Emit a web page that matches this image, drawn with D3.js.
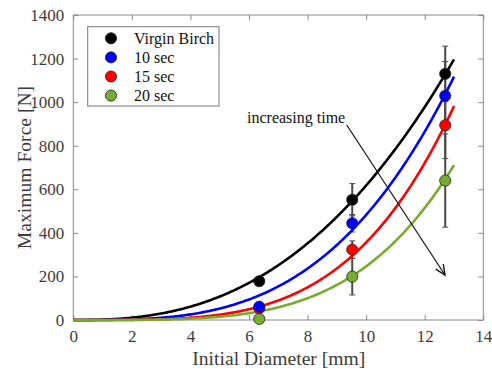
<!DOCTYPE html>
<html><head><meta charset="utf-8">
<script src="https://cdn.jsdelivr.net/npm/d3@7"></script>
<style>body{margin:0;background:#fff}svg{display:block}</style>
</head><body>
<svg id="c" width="492" height="376"></svg>
<script>
const seriesNames = ["Virgin Birch", "10 sec", "15 sec", "20 sec"];
const seriesColors = ["#000000", "#0000ff", "#ff0000", "#77ac30"];
const diameters = [6.35, 9.525, 12.7];
const forceVirgin = [178, 552, 1130];
const force10 = [61, 444, 1029];
const force15 = [54, 323, 894];
const force20 = [5, 199, 640];
const err = [[15, 74, 127], [18, 40, 157], [15, 40, 153], [6, 84, 214]];
// power-law fit F = a * D^b
const fitA = [1.865, 0.3044, 0.048, 0.02247];
const fitB = [2.52, 3.2, 3.87, 4.04];
const fitEnd = 13;
const xTicks = [0, 2, 4, 6, 8, 10, 12, 14];
const yTicks = [0, 200, 400, 600, 800, 1000, 1200, 1400];
const annotation = "increasing time";

const values = [forceVirgin, force10, force15, force20];
const svg = d3.select("#c");
const L = 73.3, R = 483.3, T = 15, B = 320;
const x = d3.scaleLinear().domain([0, 14]).range([L, R]);
const y = d3.scaleLinear().domain([0, 1400]).range([B, T]);
const font = "'Liberation Serif','Times New Roman',serif";
const axisCol = "#8a8a8a", textCol = "#3c3c3c";

function styleAxis(g) {
  g.attr("font-family", null).attr("font-size", null);
  g.select(".domain").remove();
  g.selectAll(".tick line").attr("stroke", axisCol).attr("stroke-width", 1);
  g.selectAll(".tick text").attr("fill", textCol).style("font-family", font).style("font-size", "17px");
}
svg.append("g").attr("transform", `translate(0,${B})`)
  .call(d3.axisBottom(x).tickValues(xTicks).tickSize(-5).tickPadding(10).tickFormat(d3.format("d")))
  .call(styleAxis);
svg.append("g").attr("transform", `translate(0,${T})`)
  .call(d3.axisTop(x).tickValues(xTicks).tickSize(-5).tickFormat(""))
  .call(styleAxis);
svg.append("g").attr("transform", `translate(${L},0)`)
  .call(d3.axisLeft(y).tickValues(yTicks).tickSize(-5).tickPadding(9).tickFormat(d3.format("d")))
  .call(styleAxis);
svg.append("g").attr("transform", `translate(${R},0)`)
  .call(d3.axisRight(y).tickValues(yTicks).tickSize(-5).tickFormat(""))
  .call(styleAxis);
svg.append("rect").attr("x", L).attr("y", T).attr("width", R - L).attr("height", B - T)
  .attr("fill", "none").attr("stroke", axisCol).attr("stroke-width", 1);

// error bars
const ebCol = "#4a4a4a";
values.forEach((vals, s) => {
  vals.forEach((v, i) => {
    const cx = x(diameters[i]), e = err[s][i];
    const g = svg.append("g");
    g.append("line").attr("x1", cx).attr("x2", cx).attr("y1", y(v - e)).attr("y2", y(v + e))
      .attr("stroke", ebCol).attr("stroke-width", 2);
    [v - e, v + e].forEach(t => g.append("line").attr("x1", cx - 3).attr("x2", cx + 3)
      .attr("y1", y(t)).attr("y2", y(t)).attr("stroke", ebCol).attr("stroke-width", 1));
  });
});

// fit curves
const line = d3.line().x(d => x(d[0])).y(d => y(d[1]));
fitA.forEach((a, s) => {
  const pts = d3.range(0, fitEnd + 0.001, 0.05).map(d => [d, a * Math.pow(d, fitB[s])]);
  svg.append("path").attr("d", line(pts)).attr("fill", "none")
    .attr("stroke", seriesColors[s]).attr("stroke-width", 2.6);
});

// markers (later series drawn first so earlier ones sit on top)
[3, 2, 1, 0].forEach(s => {
  svg.append("g").selectAll("circle").data(values[s]).join("circle")
    .attr("cx", (d, i) => x(diameters[i])).attr("cy", d => y(d)).attr("r", 5.6)
    .attr("fill", seriesColors[s]).attr("stroke", "#222").attr("stroke-width", 0.8);
});

// annotation arrow
svg.append("text").attr("x", 247).attr("y", 123).text(annotation)
  .attr("fill", "#111").style("font-family", font).style("font-size", "16px");
const ax1 = 346.7, ay1 = 125, ax2 = 445, ay2 = 275;
svg.append("line").attr("x1", ax1).attr("y1", ay1).attr("x2", ax2).attr("y2", ay2)
  .attr("stroke", "#111").attr("stroke-width", 1.2);
const ang = Math.atan2(ay2 - ay1, ax2 - ax1), hl = 11, ha = 0.42;
svg.append("path").attr("d",
  `M${ax2 - hl * Math.cos(ang - ha)},${ay2 - hl * Math.sin(ang - ha)}L${ax2},${ay2}L${ax2 - hl * Math.cos(ang + ha)},${ay2 - hl * Math.sin(ang + ha)}`)
  .attr("fill", "none").attr("stroke", "#111").attr("stroke-width", 1.4);

// legend
const lg = svg.append("g");
lg.append("rect").attr("x", 87.7).attr("y", 26.7).attr("width", 131.3).attr("height", 79.3)
  .attr("fill", "#fff").attr("stroke", "#777").attr("stroke-width", 1);
seriesNames.forEach((n, i) => {
  const yy = 38.3 + i * 19.1;
  lg.append("circle").attr("cx", 111).attr("cy", yy).attr("r", 5.6)
    .attr("fill", seriesColors[i]).attr("stroke", "#222").attr("stroke-width", 0.8);
  lg.append("text").attr("x", 134).attr("y", yy + 5.5).text(n)
    .attr("fill", "#111").style("font-family", font).style("font-size", "16px");
});

// axis labels
svg.append("text").attr("x", (L + R) / 2 + 0.5).attr("y", 365).attr("text-anchor", "middle")
  .text("Initial Diameter [mm]").attr("fill", textCol).style("font-family", font).style("font-size", "19.6px");
svg.append("text").attr("transform", `translate(31,${(T + B) / 2}) rotate(-90)`).attr("text-anchor", "middle")
  .text("Maximum Force [N]").attr("fill", textCol).style("font-family", font).style("font-size", "19.6px");
</script>
</body></html>
